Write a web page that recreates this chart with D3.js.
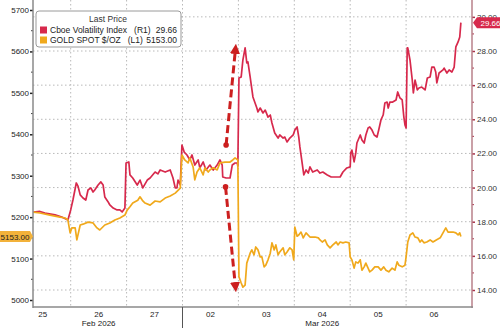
<!DOCTYPE html>
<html>
<head>
<meta charset="utf-8">
<script src="https://cdn.jsdelivr.net/npm/d3@7"></script>
<style>
  body { margin: 0; background: #fff; }
  svg { display: block; font-family: "Liberation Sans", Arial, sans-serif; }
</style>
</head>
<body>
<div id="main"></div>
<script>
// x is a trading-day index: 0 = Feb 25, 1 = Feb 26, ... 7 = Mar 06
const dayLabels = ["25", "26", "27", "02", "03", "04", "05", "06"];
const monthLabels = [["Feb 2026", 1.5], ["Mar 2026", 5.5]];
const monthBreaks = [3];

const goldTicks = [5000, 5100, 5200, 5300, 5400, 5500, 5600, 5700];
const vixTicks = [14, 16, 18, 20, 22, 24, 26, 28, 30];

// Cboe Volatility Index (right axis)
const vixData = [
  [0.33,18.57],[0.45,18.6],[0.54,18.5],[0.72,18.4],[0.84,18.27],[0.95,18.1],[1.0,18.69],[1.04,19.27],
  [1.1,20.27],[1.13,20.09],[1.17,19.57],[1.22,19.39],[1.27,19.27],[1.31,19.86],[1.36,19.98],[1.4,19.74],
  [1.43,19.86],[1.49,20.15],[1.54,20.33],[1.58,20.15],[1.61,19.45],[1.67,19.16],[1.7,18.98],[1.76,18.8],
  [1.83,18.69],[1.88,18.69],[1.92,18.57],[1.97,18.8],[1.99,21.44],[2.04,21.5],[2.06,20.74],[2.11,20.56],
  [2.19,20.15],[2.24,20.44],[2.29,19.98],[2.37,20.44],[2.42,20.56],[2.51,20.91],[2.56,20.8],[2.6,21.03],
  [2.69,20.91],[2.78,21.03],[2.83,20.56],[2.87,19.98],[2.9,19.98],[2.92,20.44],[2.96,20.15],[2.99,22.49],
  [3.03,22.08],[3.08,21.91],[3.13,21.62],[3.17,21.91],[3.22,21.32],[3.28,21.62],[3.31,21.15],[3.37,21.5],
  [3.42,21.03],[3.49,21.32],[3.55,21.03],[3.62,21.32],[3.67,21.62],[3.71,21.32],[3.72,20.62],[3.78,20.56],
  [3.85,20.56],[3.89,21.32],[3.94,21.44],[3.98,21.44],[3.99,21.26],[4.01,26.42],[4.05,26.48],[4.08,27.47],
  [4.12,28.18],[4.15,27.3],[4.17,27.36],[4.21,26.48],[4.26,25.31],[4.33,24.66],[4.35,24.43],[4.39,24.66],
  [4.44,24.37],[4.48,24.54],[4.53,24.13],[4.57,24.25],[4.6,23.78],[4.65,23.2],[4.71,22.9],[4.74,23.08],
  [4.8,22.9],[4.83,22.96],[4.87,22.67],[4.92,22.9],[4.98,23.08],[5.01,23.37],[5.05,23.55],[5.08,22.96],
  [5.1,22.38],[5.14,21.44],[5.17,20.74],[5.21,21.03],[5.25,20.85],[5.28,21.21],[5.33,20.91],[5.41,21.03],
  [5.46,20.85],[5.51,20.91],[5.59,20.74],[5.66,20.62],[5.73,20.62],[5.82,20.62],[5.87,20.91],[5.94,21.15],
  [6.0,21.21],[6.01,22.03],[6.03,22.2],[6.07,21.5],[6.1,22.03],[6.12,22.61],[6.18,23.08],[6.21,22.79],
  [6.25,22.61],[6.28,23.08],[6.32,23.49],[6.35,23.55],[6.39,23.37],[6.43,23.08],[6.48,22.96],[6.51,23.37],
  [6.55,23.96],[6.59,24.25],[6.62,24.95],[6.66,25.01],[6.68,24.66],[6.71,25.01],[6.76,25.01],[6.82,25.13],
  [6.85,25.6],[6.89,25.25],[6.93,25.13],[6.96,24.13],[6.98,23.67],[7.0,23.49],[7.02,28.18],[7.03,28.18],
  [7.07,27.47],[7.11,26.3],[7.13,25.54],[7.16,26.3],[7.2,25.72],[7.23,25.83],[7.28,25.89],[7.34,25.72],
  [7.38,26.42],[7.43,26.48],[7.46,27.06],[7.5,27.06],[7.53,26.77],[7.55,26.13],[7.59,26.71],[7.66,26.89],
  [7.68,27.0],[7.73,26.71],[7.77,26.89],[7.82,26.77],[7.86,27.06],[7.89,28.24],[7.93,28.53],[7.96,28.82],
  [7.98,29.66]
];

// GOLD SPOT $/OZ (left axis)
const goldData = [
  [0.33,5212],[0.45,5210],[0.63,5205],[0.81,5200],[0.9,5198],[0.95,5193],[0.99,5162],[1.02,5174],
  [1.08,5174],[1.11,5145],[1.17,5181],[1.22,5183],[1.31,5188],[1.4,5186],[1.47,5174],[1.52,5169],
  [1.61,5181],[1.7,5186],[1.79,5193],[1.88,5198],[1.97,5205],[2.01,5217],[2.06,5225],[2.11,5234],
  [2.2,5241],[2.24,5249],[2.29,5239],[2.33,5234],[2.42,5229],[2.51,5239],[2.6,5237],[2.69,5246],
  [2.78,5251],[2.87,5258],[2.96,5270],[2.99,5350],[3.04,5338],[3.1,5331],[3.13,5343],[3.19,5321],
  [3.22,5290],[3.26,5309],[3.31,5319],[3.37,5302],[3.4,5319],[3.46,5309],[3.49,5314],[3.55,5319],
  [3.62,5314],[3.67,5331],[3.76,5333],[3.85,5333],[3.9,5338],[3.94,5343],[3.99,5338],[4.01,5056],
  [4.05,5041],[4.08,5031],[4.12,5036],[4.15,5089],[4.21,5113],[4.24,5121],[4.28,5109],[4.31,5128],
  [4.35,5121],[4.39,5104],[4.42,5104],[4.46,5080],[4.49,5084],[4.53,5097],[4.57,5113],[4.6,5138],
  [4.64,5121],[4.67,5133],[4.71,5109],[4.74,5116],[4.8,5126],[4.83,5109],[4.87,5116],[4.92,5126],
  [4.96,5121],[4.99,5097],[5.01,5176],[5.05,5154],[5.08,5157],[5.12,5164],[5.16,5150],[5.21,5162],
  [5.28,5152],[5.37,5152],[5.43,5150],[5.46,5145],[5.5,5140],[5.55,5145],[5.59,5133],[5.64,5126],
  [5.69,5133],[5.75,5140],[5.78,5133],[5.82,5140],[5.87,5138],[5.92,5140],[5.98,5138],[6.0,5104],
  [6.03,5097],[6.07,5077],[6.1,5092],[6.14,5089],[6.18,5097],[6.21,5072],[6.25,5080],[6.28,5089],
  [6.32,5077],[6.35,5068],[6.39,5072],[6.44,5080],[6.5,5080],[6.55,5072],[6.6,5080],[6.64,5072],
  [6.69,5068],[6.75,5077],[6.8,5072],[6.84,5092],[6.87,5084],[6.93,5080],[6.98,5084],[7.0,5104],
  [7.03,5140],[7.07,5157],[7.12,5162],[7.16,5152],[7.21,5150],[7.25,5140],[7.28,5145],[7.32,5138],
  [7.37,5140],[7.43,5145],[7.48,5140],[7.54,5145],[7.61,5150],[7.66,5162],[7.71,5174],[7.75,5164],
  [7.79,5164],[7.84,5164],[7.89,5162],[7.93,5157],[7.96,5162],[7.98,5153]
];

// dashed arrows: [from t, from gold level, to t, to gold level]
const arrows = [[3.78, 5374, 3.96, 5623], [3.77, 5273, 3.96, 5014]];

const legendRows = [
  ["Cboe Volatility Index   (R1)", "29.66", "#d7294c"],
  ["GOLD SPOT $/OZ   (L1)", "5153.00", "#f0a91c"]
];

const ctx = { w: 500, h: 328, left: 33, right: 472, top: 0, bottom: 307 };
const vixColor = "#d7294c", goldColor = "#f0a91c";

function createViz() {
  const svg = d3.select("#main").append("svg")
    .attr("width", ctx.w).attr("height", ctx.h);

  const x = d3.scaleLinear().domain([0, 8]).range([14.8, 462]);
  const yL = d3.scaleLinear().domain([5000, 5700]).range([300, 10]);
  const yR = d3.scaleLinear().domain([14, 28]).range([290, 51]);

  svg.append("defs").append("clipPath").attr("id", "plot")
    .append("rect").attr("x", ctx.left).attr("y", ctx.top)
    .attr("width", ctx.right - ctx.left).attr("height", ctx.bottom - ctx.top);
  const defs = svg.select("defs");
  defs.append("marker").attr("id", "head").attr("viewBox", "0 0 10 10")
    .attr("refX", 5).attr("refY", 5).attr("markerWidth", 3.4).attr("markerHeight", 3.4)
    .attr("orient", "auto").attr("markerUnits", "strokeWidth")
    .append("path").attr("d", "M0,0L10,5L0,10z").attr("fill", "#cc1f1f");

  // grid
  const grid = svg.append("g").attr("stroke", "#b9b9b9").attr("stroke-dasharray", "1.5,2.5");
  grid.selectAll(".hg").data(vixTicks.filter(v => yR(v) > ctx.top)).enter().append("line")
    .attr("x1", ctx.left).attr("x2", ctx.right)
    .attr("y1", d => yR(d)).attr("y2", d => yR(d));
  grid.selectAll(".vg").data(d3.range(1, 8)).enter().append("line")
    .attr("x1", d => x(d)).attr("x2", d => x(d))
    .attr("y1", ctx.top).attr("y2", ctx.bottom);

  const plot = svg.append("g").attr("clip-path", "url(#plot)");
  const line = (ys) => d3.line().x(d => x(d[0])).y(d => ys(d[1]));
  plot.append("path").datum(vixData).attr("d", line(yR))
    .attr("fill", "none").attr("stroke", vixColor).attr("stroke-width", 1.7).attr("stroke-linejoin", "round");
  plot.append("path").datum(goldData).attr("d", line(yL))
    .attr("fill", "none").attr("stroke", goldColor).attr("stroke-width", 1.7).attr("stroke-linejoin", "round");

  // annotation arrows
  arrows.forEach(a => {
    svg.append("circle").attr("cx", x(a[0])).attr("cy", yL(a[1])).attr("r", 2.8).attr("fill", "#cc1f1f");
    const x1 = x(a[0]), y1 = yL(a[1]), x2 = x(a[2]), y2 = yL(a[3]);
    const len = Math.hypot(x2 - x1, y2 - y1), k = (len - 7) / len;
    svg.append("line").attr("x1", x1).attr("y1", y1)
      .attr("x2", x1 + (x2 - x1) * k).attr("y2", y1 + (y2 - y1) * k)
      .attr("stroke", "#cc1f1f").attr("stroke-width", 3).attr("stroke-dasharray", "8,4")
      .attr("marker-end", "url(#head)");
  });

  // left axis
  const la = svg.append("g").attr("transform", `translate(${ctx.left},0)`)
    .call(d3.axisLeft(yL).tickValues(goldTicks).tickSize(3).tickFormat(d3.format("d")));
  la.select(".domain").remove();
  la.selectAll(".tick line").attr("stroke", "#222").attr("stroke-width", 1.5);
  la.selectAll(".tick text").attr("font-size", 8).attr("fill", "#222").attr("x", -4);
  la.selectAll(".minor").data(d3.range(5050, 5700, 100)).enter().append("line")
    .attr("x1", -2).attr("x2", 0).attr("y1", d => yL(d)).attr("y2", d => yL(d)).attr("stroke", "#444");
  la.append("line").attr("y1", ctx.top).attr("y2", ctx.bottom + 1).attr("stroke", "#8a8a8a").attr("stroke-width", 1.5);

  // right axis
  const ra = svg.append("g").attr("transform", `translate(${ctx.right},0)`)
    .call(d3.axisRight(yR).tickValues(vixTicks).tickSize(3).tickFormat(d3.format(".2f")));
  ra.select(".domain").remove();
  ra.selectAll(".tick line").attr("stroke", "#a8324a").attr("stroke-width", 1.5);
  ra.selectAll(".tick text").attr("font-size", 8).attr("fill", "#333").attr("x", 5);
  ra.selectAll(".minor").data(d3.range(15, 30, 2)).enter().append("line")
    .attr("x1", 0).attr("x2", 2).attr("y1", d => yR(d)).attr("y2", d => yR(d)).attr("stroke", "#a8324a");
  ra.append("line").attr("y1", ctx.top).attr("y2", ctx.bottom + 1).attr("stroke", "#b8808a").attr("stroke-width", 1.5);

  // bottom axis
  svg.append("line").attr("x1", ctx.left).attr("x2", ctx.right + 1)
    .attr("y1", ctx.bottom).attr("y2", ctx.bottom).attr("stroke", "#8a8a8a").attr("stroke-width", 1.5);
  svg.selectAll(".day").data(dayLabels).enter().append("text")
    .attr("x", (d, i) => x(i + 0.5)).attr("y", ctx.bottom + 10)
    .attr("text-anchor", "middle").attr("font-size", 8).attr("fill", "#222").text(d => d);
  svg.selectAll(".month").data(monthLabels).enter().append("text")
    .attr("x", d => x(d[1])).attr("y", ctx.bottom + 19)
    .attr("text-anchor", "middle").attr("font-size", 8).attr("fill", "#222").text(d => d[0]);
  svg.selectAll(".mb").data(monthBreaks).enter().append("line")
    .attr("x1", d => x(d)).attr("x2", d => x(d))
    .attr("y1", ctx.bottom).attr("y2", ctx.h).attr("stroke", "#555");

  // last value tags
  const lastV = vixData[vixData.length - 1], lastG = goldData[goldData.length - 1];
  const vt = svg.append("g").attr("transform", `translate(${ctx.right + 4},${yR(lastV[1])})`);
  vt.append("path").attr("d", "M-3,0L1,-5.5H28V5.5H1Z").attr("fill", vixColor);
  vt.append("text").attr("x", 14.5).attr("y", 3).attr("text-anchor", "middle")
    .attr("font-size", 8).attr("fill", "#fff").text(lastV[1].toFixed(2));
  const gt = svg.append("g").attr("transform", `translate(0,${yL(lastG[1])})`);
  gt.append("path").attr("d", "M0,-5.5H30L33,0L30,5.5H0Z").attr("fill", "#f3b23a");
  gt.append("text").attr("x", 15).attr("y", 3).attr("text-anchor", "middle")
    .attr("font-size", 8).attr("fill", "#222").text(lastG[1].toFixed(2));

  // legend
  const lg = svg.append("g").attr("transform", "translate(36,11)");
  lg.append("rect").attr("width", 145).attr("height", 36).attr("rx", 3)
    .attr("fill", "#fff").attr("stroke", "#9a9a9a");
  lg.append("text").attr("x", 72).attr("y", 11).attr("text-anchor", "middle")
    .attr("font-size", 8.5).attr("fill", "#333").text("Last Price");
  const rows = lg.selectAll(".row").data(legendRows).enter().append("g")
    .attr("transform", (d, i) => `translate(0,${19 + i * 10})`);
  rows.append("rect").attr("x", 4).attr("y", -3.5).attr("width", 7).attr("height", 7).attr("fill", d => d[2]);
  rows.append("text").attr("x", 14).attr("y", 3).attr("font-size", 8.5).attr("fill", "#222")
    .attr("xml:space", "preserve").text(d => d[0]);
  rows.append("text").attr("x", 141).attr("y", 3).attr("text-anchor", "end")
    .attr("font-size", 8.5).attr("fill", "#222").text(d => d[1]);
}

createViz();
</script>
</body>
</html>
